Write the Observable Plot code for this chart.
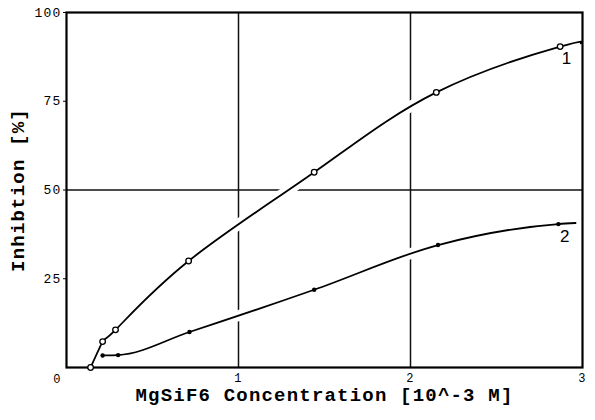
<!DOCTYPE html>
<html>
<head>
<meta charset="utf-8">
<script src="https://cdn.jsdelivr.net/npm/d3@7"></script>
<script src="https://cdn.jsdelivr.net/npm/@observablehq/plot@0.6"></script>
<style>
  html, body { margin: 0; padding: 0; background: white; }
  svg { letter-spacing: 1.2px; }
  g[aria-label="x-title"] text, g[aria-label="y-title"] text { letter-spacing: 1.9px; }
  g[aria-label="curve-label"] text { letter-spacing: 0; }
</style>
</head>
<body>
<div id="chart"></div>
<script>
// Series 1 (open circles)
const s1x = [0.14, 0.21, 0.285, 0.71, 1.44, 2.15, 2.87];
const s1y = [0, 7.3, 10.6, 30, 55, 77.5, 90.4];
const s1EndX = 2.99, s1EndY = 91.3;
// Series 2 (filled dots)
const s2x = [0.21, 0.30, 0.715, 1.44, 2.16, 2.86];
const s2y = [3.4, 3.5, 10, 21.9, 34.5, 40.4];
const s2EndX = 2.96, s2EndY = 40.7;

const seriesNames = ["1", "2"];
const xTicks = [1, 2, 3];
const yTicks = [25, 50, 75, 100];
const zeroLabel = "0";
const xGrid = [1, 2];
const yGrid = [50];
const xTitle = "MgSiF6 Concentration [10^-3 M]";
const yTitle = "Inhibtion [%]";

const pts1 = s1x.map((x, i) => ({x, y: s1y[i]}));
const pts2 = s2x.map((x, i) => ({x, y: s2y[i]}));
const line1 = [...pts1, {x: s1EndX, y: s1EndY}];
const line2 = [...pts2, {x: s2EndX, y: s2EndY}];
const lastPts = [
  {...pts1[pts1.length - 1], name: seriesNames[0]},
  {...pts2[pts2.length - 1], name: seriesNames[1]}
];

const chart = Plot.plot({
  width: 595,
  height: 420,
  marginLeft: 66,
  marginRight: 13,
  marginTop: 12,
  marginBottom: 53,
  x: {domain: [0, 3]},
  y: {domain: [0, 100]},
  style: {fontFamily: "'Liberation Mono', monospace", fontSize: "12px", background: "white", color: "#000"},
  marks: [
    Plot.ruleX(xGrid, {stroke: "#111", strokeWidth: 1.5}),
    Plot.ruleY(yGrid, {stroke: "#111", strokeWidth: 1.5}),
    Plot.line(line1, {x: "x", y: "y", curve: "natural", stroke: "white", strokeWidth: 11}),
    Plot.line(line2, {x: "x", y: "y", curve: "monotone-x", stroke: "white", strokeWidth: 11}),
    Plot.frame({stroke: "#000", strokeWidth: 2.2}),
    Plot.axisY({ticks: yTicks, tickSize: 3, tickPadding: 2, label: null, fontSize: 13, tickFormat: d => String(d)}),
    Plot.axisX({ticks: xTicks, tickSize: 0, tickPadding: 6, label: null, fontSize: 12, tickFormat: d => String(d)}),
    Plot.text([zeroLabel], {x: () => 0, y: () => 0, text: d => d, dx: -9, dy: 12, fontSize: 12}),
    Plot.line(line1, {x: "x", y: "y", curve: "natural", stroke: "#000", strokeWidth: 1.8}),
    Plot.line(line2, {x: "x", y: "y", curve: "monotone-x", stroke: "#000", strokeWidth: 1.8}),
    Plot.dot(pts1, {x: "x", y: "y", r: 2.8, fill: "white", stroke: "#000", strokeWidth: 1.3}),
    Plot.dot(pts2, {x: "x", y: "y", r: 2.2, fill: "#000", stroke: "none"}),
    Plot.text(lastPts, {x: "x", y: "y", text: "name", dx: 7, dy: 12, fontSize: 17, fontFamily: "'Liberation Sans', Arial, sans-serif", ariaLabel: "curve-label"}),
    Plot.text([xTitle], {frameAnchor: "bottom", dy: 33, text: d => d, fontSize: 19, fontWeight: "bold", ariaLabel: "x-title"}),
    Plot.text([yTitle], {frameAnchor: "left", textAnchor: "middle", dx: -49, rotate: -90, text: d => d, fontSize: 19, fontWeight: "bold", ariaLabel: "y-title"})
  ]
});
document.getElementById("chart").appendChild(chart);
</script>
</body>
</html>
